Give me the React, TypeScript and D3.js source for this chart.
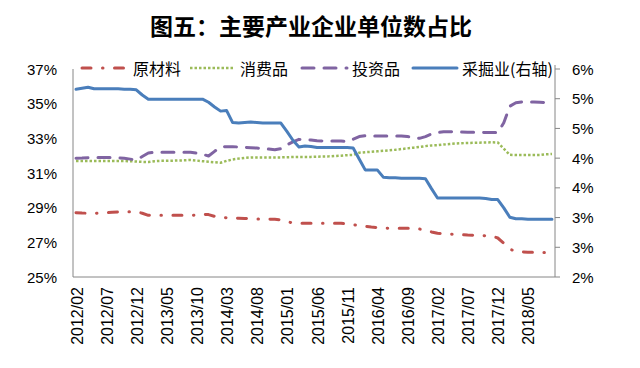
import React from 'react';
import * as d3 from 'd3';

// monthly categories 2012/02 .. 2018/09
const categories: string[] = d3
  .timeMonths(new Date(2012, 1, 1), new Date(2018, 9, 1))
  .map(d3.timeFormat('%Y/%m'));

// 原材料 (left axis, %)
const rawMaterials = [
  28.71, 28.69, 28.68, 28.67, 28.69, 28.71, 28.73, 28.75, 28.77, 28.77,
  28.76, 28.68, 28.56, 28.55, 28.56, 28.56, 28.56, 28.56, 28.56, 28.56,
  28.57, 28.62, 28.60, 28.50, 28.44, 28.42, 28.40, 28.39, 28.38, 28.36,
  28.35, 28.35, 28.34, 28.33, 28.30, 28.20, 28.11, 28.10, 28.10, 28.10,
  28.10, 28.10, 28.10, 28.10, 28.10, 28.06, 28.02, 27.97, 27.93, 27.88,
  27.85, 27.83, 27.81, 27.81, 27.81, 27.81, 27.79, 27.77, 27.70, 27.60,
  27.52, 27.50, 27.47, 27.46, 27.44, 27.42, 27.41, 27.40, 27.38, 27.37,
  27.25, 26.95, 26.60, 26.48, 26.44, 26.43, 26.42, 26.42, 26.42, 26.42,
];

// 消费品 (left axis, %)
const consumerGoods = [
  31.69, 31.69, 31.69, 31.69, 31.69, 31.69, 31.69, 31.69, 31.69, 31.68,
  31.66, 31.64, 31.63, 31.68, 31.70, 31.70, 31.71, 31.72, 31.73, 31.75,
  31.72, 31.68, 31.65, 31.62, 31.59, 31.70, 31.78, 31.83, 31.87, 31.90,
  31.90, 31.90, 31.90, 31.90, 31.90, 31.91, 31.92, 31.93, 31.93, 31.93,
  31.94, 31.95, 31.96, 31.98, 32.00, 32.03, 32.04, 32.17, 32.20, 32.22,
  32.25, 32.28, 32.31, 32.34, 32.38, 32.42, 32.46, 32.50, 32.55, 32.59,
  32.60, 32.64, 32.67, 32.70, 32.72, 32.73, 32.74, 32.75, 32.76, 32.77,
  32.76, 32.40, 32.05, 32.04, 32.04, 32.04, 32.04, 32.04, 32.08, 32.10,
];

// 投资品 (left axis, %)
const investmentGoods = [
  31.85, 31.86, 31.88, 31.90, 31.90, 31.90, 31.88, 31.87, 31.85, 31.80,
  31.75, 31.95, 32.15, 32.20, 32.20, 32.20, 32.20, 32.20, 32.20, 32.20,
  32.15, 32.08, 31.98, 32.25, 32.50, 32.52, 32.52, 32.50, 32.48, 32.46,
  32.44, 32.42, 32.38, 32.34, 32.40, 32.62, 32.80, 32.94, 32.92, 32.90,
  32.86, 32.85, 32.85, 32.85, 32.84, 32.81, 32.95, 33.10, 33.15, 33.14,
  33.14, 33.14, 33.14, 33.14, 33.14, 33.10, 33.06, 33.00, 33.10, 33.25,
  33.33, 33.38, 33.38, 33.37, 33.36, 33.35, 33.35, 33.34, 33.33, 33.33,
  33.33, 33.90, 34.85, 35.05, 35.10, 35.10, 35.10, 35.08, 35.06, 35.06,
];

// 采掘业 (right axis, %)
const mining = [
  5.61, 5.63, 5.65, 5.62, 5.62, 5.62, 5.62, 5.62, 5.61, 5.61,
  5.60, 5.50, 5.42, 5.42, 5.42, 5.42, 5.42, 5.42, 5.42, 5.42,
  5.42, 5.42, 5.36, 5.27, 5.19, 5.20, 4.97, 4.96, 4.97, 4.98,
  4.97, 4.96, 4.96, 4.96, 4.96, 4.80, 4.63, 4.50, 4.52, 4.51,
  4.49, 4.49, 4.49, 4.49, 4.49, 4.49, 4.48, 4.27, 4.06, 4.06,
  4.06, 3.92, 3.91, 3.91, 3.90, 3.90, 3.90, 3.90, 3.89, 3.70,
  3.52, 3.52, 3.52, 3.52, 3.52, 3.52, 3.52, 3.52, 3.51, 3.49,
  3.49, 3.33, 3.15, 3.12, 3.12, 3.11, 3.11, 3.11, 3.11, 3.11,
];

const leftTicks = [25, 27, 29, 31, 33, 35, 37];
const rightTicks = d3.range(8).map((i) => 2 + (i * 4) / 7);

const title = '图五：主要产业企业单位数占比';

const W = 640;
const H = 368;
const left = 73;
const right = 555;
const top = 69;
const bottom = 277;
const axisColor = '#868686';
const numFont = '"Liberation Sans", Arial, sans-serif';
const cjkFont = '"Noto Sans CJK SC", sans-serif';

const styles = {
  raw: { color: '#C0504D', width: 3, dash: '9,11.5,0.5,11.5', cap: 'round' },
  consumer: { color: '#9BBB59', width: 2.5, dash: '2.5,2', cap: 'butt' },
  invest: { color: '#8064A2', width: 3, dash: '12,10', cap: 'round' },
  mining: { color: '#4A7EBB', width: 3, dash: undefined, cap: 'round' },
};

export default function App() {
  const x = d3.scaleBand<string>().domain(categories).range([left, right]).padding(0);
  const cx = (i: number) => (x(categories[i]) as number) + x.bandwidth() / 2;
  const yL = d3.scaleLinear().domain([25, 37]).range([bottom, top]);
  const yR = d3.scaleLinear().domain([2, 6]).range([bottom, top]);

  const lineL = d3.line<number>().x((_, i) => cx(i)).y((d) => yL(d));
  const lineR = d3.line<number>().x((_, i) => cx(i)).y((d) => yR(d));

  const series = [
    { name: '原材料', data: rawMaterials, st: styles.raw, line: lineL },
    { name: '消费品', data: consumerGoods, st: styles.consumer, line: lineL },
    { name: '投资品', data: investmentGoods, st: styles.invest, line: lineL },
    { name: '采掘业(右轴)', data: mining, st: styles.mining, line: lineR },
  ];

  const legendPos = [
    { x0: 82, x1: 128, tx: 133 },
    { x0: 190, x1: 235, tx: 240 },
    { x0: 302, x1: 347, tx: 352 },
    { x0: 413, x1: 457, tx: 462 },
  ];
  const legendY = 68;

  return (
    <div style={{ position: 'absolute', left: 0, top: 0 }}>
      <svg width={W} height={H} style={{ display: 'block', background: '#fff' }}>
        <text x={311} y={25} textAnchor="middle" dominantBaseline="central"
          fontFamily={cjkFont} fontWeight={700} fontSize={23} fill="#000">
          {title}
        </text>

        {/* axes */}
        <line x1={left} x2={left} y1={top} y2={bottom} stroke={axisColor} strokeWidth={1} />
        <line x1={left} x2={right} y1={bottom} y2={bottom} stroke={axisColor} strokeWidth={1} />
        <line x1={right} x2={right} y1={top - 4} y2={bottom} stroke={axisColor} strokeWidth={1} />

        {leftTicks.map((t) => (
          <text key={'l' + t} x={57} y={yL(t)} textAnchor="end" dominantBaseline="central"
            fontFamily={numFont} fontSize={15} fill="#000">
            {t}%
          </text>
        ))}

        {rightTicks.map((t, i) => (
          <g key={'r' + i}>
            <line x1={right} x2={right + 5} y1={yR(t)} y2={yR(t)} stroke={axisColor} />
            <text x={572} y={yR(t)} dominantBaseline="central"
              fontFamily={numFont} fontSize={15} fill="#000">
              {Math.round(t)}%
            </text>
          </g>
        ))}

        {categories.map((c, i) =>
          i % 5 === 0 ? (
            <text key={c} transform={`translate(${cx(i) + 1},${bottom + 10}) rotate(-90)`}
              textAnchor="end" dominantBaseline="central"
              fontFamily={numFont} fontSize={16} fill="#000">
              {c}
            </text>
          ) : null
        )}

        {series.map((s) => (
          <path key={s.name} d={s.line(s.data) || ''} fill="none" stroke={s.st.color}
            strokeWidth={s.st.width} strokeDasharray={s.st.dash}
            strokeLinecap={s.st.cap as any} strokeLinejoin="round" />
        ))}

        {series.map((s, i) => (
          <g key={'lg' + s.name}>
            <line x1={legendPos[i].x0} x2={legendPos[i].x1} y1={legendY} y2={legendY}
              stroke={s.st.color} strokeWidth={s.st.width} strokeDasharray={s.st.dash}
              strokeLinecap={s.st.cap as any} />
            <text x={legendPos[i].tx} y={legendY} dominantBaseline="central"
              fontFamily={cjkFont} fontSize={16} fill="#000">
              {s.name}
            </text>
          </g>
        ))}
      </svg>
    </div>
  );
}
